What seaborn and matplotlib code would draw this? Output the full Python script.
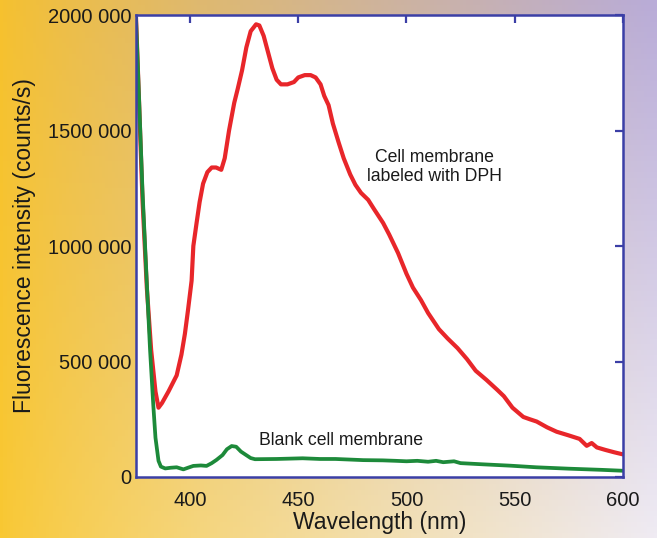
import numpy as np
import pandas as pd
import matplotlib
matplotlib.use("Agg")
import matplotlib.pyplot as plt
import matplotlib.colors as mcolors
import seaborn as sns

# Cell membrane labeled with DPH (red)
wl_dph = [375, 376.5, 378, 380, 382, 384, 385.4, 387, 390, 393.8, 396, 397.6, 399, 400.7,
          401.5, 403, 404.4, 406, 408, 410, 412, 414.4, 416, 418, 420.4, 422, 424, 426,
          428, 430.5, 432, 434, 436, 438, 440, 442, 445, 448, 450, 453, 455.7, 458, 460.3,
          462, 464, 466, 468.6, 471, 474, 476.4, 479, 482.3, 485, 489.2, 492, 496.1, 500,
          503, 506.7, 510, 515, 519, 523.6, 528, 532, 537, 542, 545, 549, 554, 557, 560.2,
          565, 569.4, 575, 580, 583.3, 585.6, 588, 592, 596, 600]
int_dph = [1.99, 1.60, 1.20, 0.82, 0.55, 0.37, 0.30, 0.32, 0.37, 0.44, 0.53, 0.62, 0.72, 0.85,
           1.00, 1.10, 1.19, 1.27, 1.32, 1.34, 1.34, 1.33, 1.38, 1.50, 1.62, 1.68, 1.76, 1.86,
           1.93, 1.96, 1.955, 1.91, 1.84, 1.77, 1.72, 1.70, 1.70, 1.71, 1.73, 1.74, 1.74, 1.73, 1.70,
           1.65, 1.61, 1.53, 1.45, 1.38, 1.31, 1.265, 1.23, 1.20, 1.16, 1.10, 1.05, 0.97, 0.88,
           0.82, 0.766, 0.71, 0.64, 0.60, 0.558, 0.51, 0.46, 0.42, 0.377, 0.35, 0.30, 0.26, 0.25, 0.24,
           0.215, 0.196, 0.18, 0.165, 0.135, 0.147, 0.128, 0.117, 0.107, 0.098]

# Blank cell membrane (green)
wl_blank = [375, 376.5, 378, 380, 381.5, 383, 384, 385.4, 386.5, 388.5, 391, 393.8, 396.9,
            399, 401.5, 405, 407.6, 410, 412.2, 415, 417, 419.2, 421.3, 423.5, 425.9, 428,
            430, 440, 452, 460, 467.2, 475, 480, 489, 495, 500, 505, 510, 513.7, 517, 522,
            525, 535, 548, 560, 575, 590, 600]
int_blank = [1.99, 1.62, 1.24, 0.84, 0.55, 0.31, 0.17, 0.07, 0.045, 0.037, 0.04, 0.042, 0.033,
             0.04, 0.048, 0.05, 0.048, 0.06, 0.074, 0.095, 0.12, 0.134, 0.131, 0.11, 0.095, 0.082,
             0.077, 0.078, 0.081, 0.078, 0.078, 0.075, 0.073, 0.072, 0.07, 0.068, 0.07, 0.066,
             0.07, 0.064, 0.068, 0.06, 0.055, 0.049, 0.042, 0.036, 0.031, 0.027]

x_ticks = [400, 450, 500, 550, 600]
y_ticks = [0, 500000, 1000000, 1500000, 2000000]
y_tick_labels = ["0", "500 000", "1000 000", "1500 000", "2000 000"]

df_dph = pd.DataFrame({"wl": wl_dph, "I": np.array(int_dph) * 1e6})
df_blank = pd.DataFrame({"wl": wl_blank, "I": np.array(int_blank) * 1e6})

sns.set_theme(style="white")
plt.rcParams["font.family"] = ["Liberation Sans", "DejaVu Sans"]

blue = "#3b3fa6"
ink = "#1a1a1a"
fig = plt.figure(figsize=(6.57, 5.38), dpi=100)

# gradient background: yellow on the left, lavender on the right, paler at the bottom
bg = fig.add_axes([0, 0, 1, 1], zorder=-10)
ny, nx = 100, 200
gx = np.linspace(0, 1, nx)[None, :] ** 0.8
gy = np.linspace(0, 1, ny)[:, None]
tl = np.array(mcolors.to_rgb("#f6c12e"))
tr = np.array(mcolors.to_rgb("#b9acd8"))
bl = np.array(mcolors.to_rgb("#f9c833"))
br = np.array(mcolors.to_rgb("#efebf3"))
top = tl * (1 - gx[..., None]) + tr * gx[..., None]
bot = bl * (1 - gx[..., None]) + br * gx[..., None]
img = top * (1 - gy[..., None]) + bot * gy[..., None]
bg.imshow(img, aspect="auto", extent=[0, 1, 0, 1])
bg.axis("off")

ax = fig.add_axes([0.207, 0.1134, 0.741, 0.8586])
ax.set_facecolor("white")
sns.lineplot(data=df_dph, x="wl", y="I", ax=ax, color="#e8262a", lw=3.0, sort=False)
sns.lineplot(data=df_blank, x="wl", y="I", ax=ax, color="#1d8a3a", lw=2.7, sort=False)

ax.set_xlim(375, 600)
ax.set_ylim(0, 2000000)
ax.set_xticks(x_ticks)
ax.set_yticks(y_ticks)
ax.set_yticklabels(y_tick_labels)
ax.tick_params(axis="both", direction="in", length=6, width=1.6, color=blue,
               top=True, right=True, labelsize=14.5, labelcolor=ink)
ax.tick_params(axis="x", pad=10)
ax.tick_params(axis="y", pad=3)
for s in ax.spines.values():
    s.set_color(blue)
    s.set_linewidth(1.8)

ax.set_xlabel("Wavelength (nm)", fontsize=16.5, color=ink, labelpad=1)
ax.set_ylabel("Fluorescence intensity (counts/s)", fontsize=16.5, color=ink, labelpad=9)

ax.text(513, 1342000, "Cell membrane\nlabeled with DPH", ha="center", va="center",
        fontsize=12.7, color=ink, linespacing=1.2)
ax.text(432, 156000, "Blank cell membrane", ha="left", va="center",
        fontsize=12.7, color=ink)

fig.savefig("out.png", dpi=100)
